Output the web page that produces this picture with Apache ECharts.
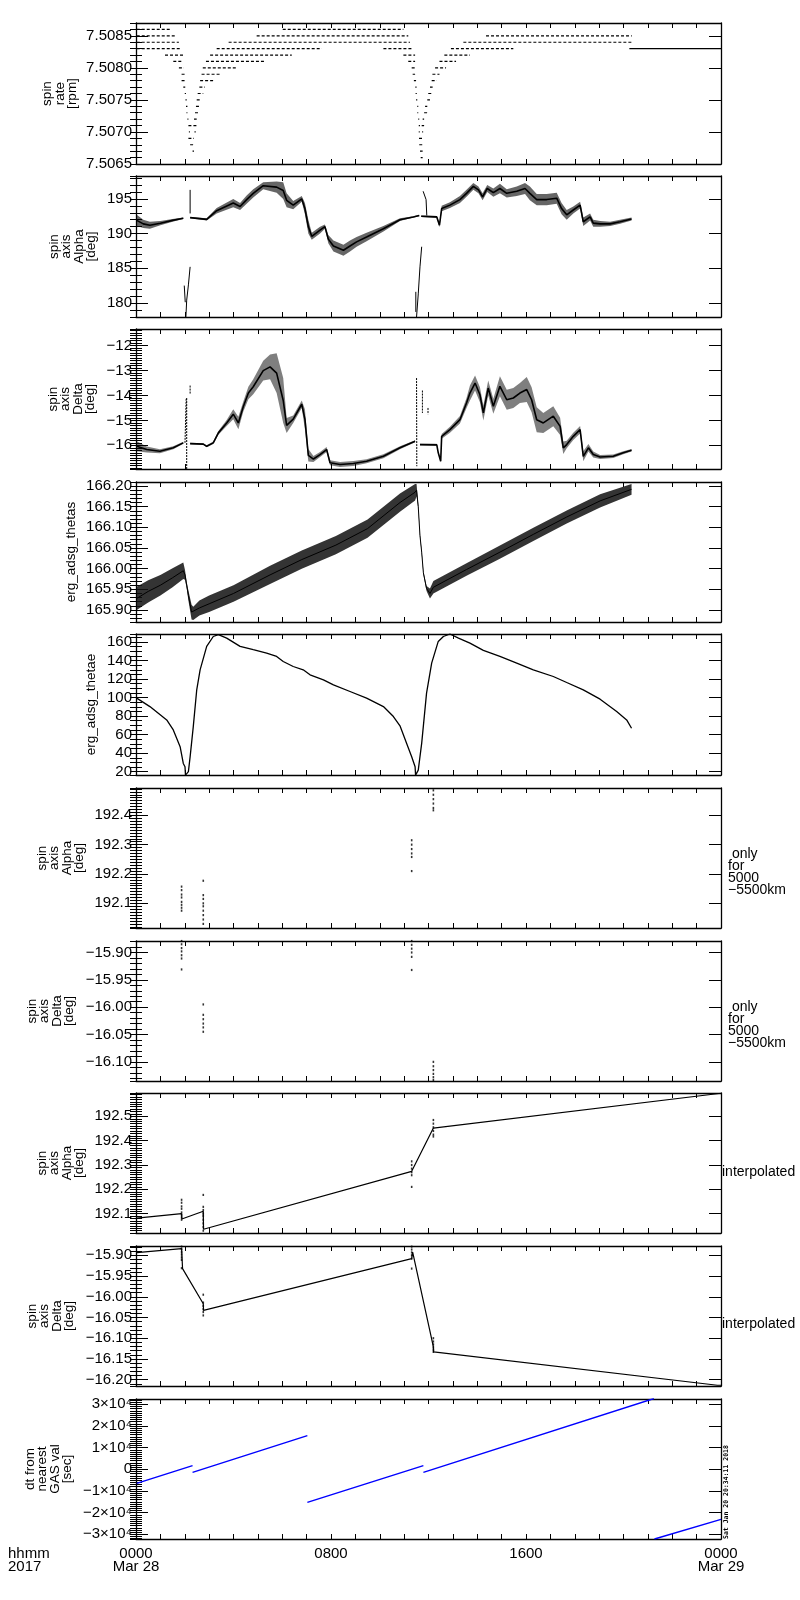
<!DOCTYPE html>
<html>
<head>
<meta charset="utf-8">
<script src="https://cdn.jsdelivr.net/npm/echarts@6/dist/echarts.min.js"></script>
<style>
  html, body { margin: 0; padding: 0; background: #fff; }
  #chart { width: 800px; height: 1600px; }
</style>
</head>
<body>
<div id="chart"></div>
<script>
// time is hours after 0000 UT, Mar 28 2017
var hourLabels = ['0000\nMar 28', '0800', '1600', '0000\nMar 29'];

// spin rate: quantized levels, [rpm, tStart, tEnd]
var spinRuns = [
  [7.5086, 0.03, 1.39], [7.5086, 6.02, 10.97],
  [7.5085, 0.03, 1.67], [7.5085, 4.95, 11.17], [7.5085, 14.36, 20.34],
  [7.5084, 0.03, 1.76], [7.5084, 3.80, 11.24], [7.5084, 13.43, 20.34],
  [7.5083, 0.03, 1.81], [7.5083, 3.31, 7.62], [7.5083, 10.15, 11.31], [7.5083, 12.92, 15.48],
  [7.5082, 1.19, 1.94], [7.5082, 3.04, 6.39], [7.5082, 10.97, 11.45], [7.5082, 12.65, 13.70],
  [7.5081, 1.53, 1.94], [7.5081, 2.87, 5.33], [7.5081, 11.17, 11.45], [7.5081, 12.45, 13.13],
  [7.5080, 1.76, 1.97], [7.5080, 2.74, 4.10], [7.5080, 11.31, 11.45], [7.5080, 12.27, 12.72],
  [7.5079, 1.87, 2.01], [7.5079, 2.69, 3.45], [7.5079, 11.35, 11.45], [7.5079, 12.16, 12.45],
  [7.5078, 1.87, 2.02], [7.5078, 2.63, 3.17], [7.5078, 11.40, 11.49], [7.5078, 12.13, 12.34],
  [7.5077, 1.94, 2.02], [7.5077, 2.60, 2.83], [7.5077, 11.46, 11.51], [7.5077, 12.06, 12.17],
  [7.5076, 2.00, 2.05], [7.5076, 2.53, 2.76], [7.5076, 11.47, 11.52], [7.5076, 11.99, 12.13],
  [7.5075, 2.03, 2.08], [7.5075, 2.49, 2.63], [7.5075, 11.49, 11.54], [7.5075, 11.95, 12.06],
  [7.5074, 2.05, 2.11], [7.5074, 2.46, 2.60], [7.5074, 11.54, 11.58], [7.5074, 11.86, 11.95],
  [7.5073, 2.07, 2.11], [7.5073, 2.42, 2.56], [7.5073, 11.54, 11.58], [7.5073, 11.82, 11.95],
  [7.5072, 2.11, 2.15], [7.5072, 2.38, 2.49], [7.5072, 11.58, 11.62], [7.5072, 11.76, 11.82],
  [7.5071, 2.15, 2.49], [7.5071, 11.60, 11.65], [7.5071, 11.72, 11.82],
  [7.5070, 2.17, 2.21], [7.5070, 2.40, 2.45], [7.5070, 11.60, 11.64], [7.5070, 11.74, 11.78],
  [7.5069, 2.15, 2.38], [7.5069, 11.61, 11.77],
  [7.5068, 2.22, 2.38], [7.5068, 11.62, 11.76],
  [7.5067, 2.32, 2.38], [7.5067, 11.65, 11.76],
  [7.5066, 11.68, 11.76]
];
// fill value after the data end
var spinFill = [[7.5083, 20.24, 24]];

// spin axis alpha: [t, centre, half spread]
var alphaSeg1 = [[0.03, 191.9, 0.8], [0.3, 191.4, 0.6], [0.57, 191.2, 0.5], [1.0, 191.5, 0.3], [1.5, 191.9, 0.2], [1.94, 192.2, 0.1]];
var alphaSeg2 = [[2.22, 192.3, 0.1], [2.9, 192.05, 0.15], [3.31, 193.3, 0.4], [3.99, 194.4, 0.6], [4.27, 193.9, 0.5],
  [4.54, 194.9, 0.6], [4.81, 195.8, 0.6], [5.22, 196.9, 0.5], [5.77, 196.7, 0.8], [6.04, 196.2, 1.2], [6.18, 194.8, 1.0],
  [6.45, 194.1, 0.6], [6.80, 195.0, 0.4], [6.93, 193.6, 0.8], [7.07, 191.0, 1.0], [7.21, 189.6, 0.5], [7.55, 190.5, 0.5],
  [7.75, 191.0, 0.3], [7.89, 189.2, 0.6], [8.10, 188.2, 0.8], [8.51, 187.6, 0.8], [8.78, 188.2, 0.8], [9.05, 188.8, 0.7],
  [9.46, 189.5, 0.6], [10.15, 190.7, 0.4], [10.83, 192.0, 0.2], [11.38, 192.4, 0.1], [11.62, 192.6, 0.1]];
var alphaSeg3 = [[11.7, 192.5, 0.1], [12.34, 192.4, 0.15], [12.45, 191.2, 0.3], [12.54, 193.6, 0.4], [12.88, 194.1, 0.4],
  [13.29, 194.9, 0.5], [13.56, 195.8, 0.5], [13.84, 196.8, 0.5], [14.05, 196.3, 0.5], [14.22, 195.3, 0.5], [14.41, 196.5, 0.5],
  [14.66, 195.9, 0.6], [14.93, 196.5, 0.7], [15.21, 195.8, 0.6], [15.62, 196.1, 0.7], [15.96, 196.5, 0.8], [16.16, 195.8, 1.0],
  [16.44, 194.9, 0.8], [16.85, 194.9, 0.8], [17.26, 195.1, 0.8], [17.46, 193.6, 0.8], [17.67, 192.7, 0.7], [17.94, 193.4, 0.5],
  [18.22, 194.1, 0.5], [18.35, 191.7, 0.6], [18.63, 192.4, 0.5], [18.76, 191.5, 0.5], [19.04, 191.4, 0.4], [19.45, 191.4, 0.3],
  [19.86, 191.7, 0.3], [20.33, 192.1, 0.2]];
var alphaSpikes = [
  [[2.22, 192.9], [2.22, 196.3]],
  [[11.78, 196.1], [11.90, 194.9], [11.93, 192.6]],
  [[1.98, 182.5], [2.02, 180.1]],
  [[2.04, 177.5], [2.08, 180.4], [2.15, 182.6], [2.22, 185.2]],
  [[11.48, 181.6], [11.48, 178.7]],
  [[11.50, 177.5], [11.58, 181.3], [11.65, 185.2], [11.72, 188.1]]
];

// spin axis delta: [t, centre, half spread]
var deltaSeg1 = [[0.03, -16.04, 0.2], [0.44, -16.17, 0.12], [0.98, -16.24, 0.08], [1.53, -16.1, 0.06], [1.94, -15.9, 0.04]];
var deltaSeg2 = [[2.22, -15.93, 0.03], [2.76, -15.95, 0.03], [2.90, -16.04, 0.04], [3.17, -15.9, 0.05], [3.38, -15.5, 0.08],
  [3.72, -15.1, 0.12], [3.99, -14.75, 0.2], [4.20, -15.1, 0.25], [4.40, -14.45, 0.2], [4.61, -13.9, 0.25], [4.81, -13.65, 0.3],
  [5.22, -13.0, 0.4], [5.50, -12.85, 0.5], [5.77, -13.1, 0.8], [6.04, -14.2, 0.9], [6.18, -15.2, 0.3], [6.45, -14.95, 0.15],
  [6.80, -14.35, 0.15], [6.93, -14.95, 0.4], [7.07, -16.4, 0.25], [7.28, -16.55, 0.12], [7.55, -16.37, 0.1], [7.82, -16.17, 0.1],
  [7.96, -16.7, 0.1], [8.37, -16.77, 0.1], [8.92, -16.73, 0.1], [9.46, -16.64, 0.08], [10.15, -16.44, 0.08], [10.83, -16.1, 0.06],
  [11.45, -15.84, 0.04]];
var deltaSeg3 = [[11.65, -15.97, 0.03], [12.34, -15.98, 0.04], [12.40, -16.3, 0.05], [12.50, -16.64, 0.05], [12.54, -15.64, 0.1],
  [12.88, -15.37, 0.12], [13.29, -14.97, 0.15], [13.56, -14.3, 0.2], [13.70, -13.9, 0.3], [13.91, -13.5, 0.3], [14.11, -13.97, 0.3],
  [14.25, -14.7, 0.3], [14.45, -13.7, 0.3], [14.66, -14.43, 0.3], [14.93, -13.63, 0.4], [15.21, -14.17, 0.4], [15.48, -14.1, 0.4],
  [15.75, -13.9, 0.4], [16.03, -13.76, 0.5], [16.23, -14.17, 0.5], [16.44, -14.97, 0.5], [16.71, -15.1, 0.4], [17.12, -14.83, 0.4],
  [17.40, -15.24, 0.35], [17.53, -16.1, 0.25], [17.67, -15.97, 0.15], [17.94, -15.64, 0.15], [18.22, -15.37, 0.15],
  [18.35, -16.44, 0.2], [18.56, -16.1, 0.15], [18.76, -16.37, 0.12], [19.04, -16.47, 0.08], [19.58, -16.44, 0.07],
  [19.99, -16.3, 0.06], [20.33, -16.2, 0.05]];
var deltaSpikes = [
  [[2.01, -15.9], [2.06, -14.1]],
  [[2.08, -14.1], [2.08, -16.95]],
  [[2.22, -13.6], [2.22, -13.95]],
  [[11.51, -13.3], [11.52, -16.84]],
  [[11.75, -13.8], [11.75, -14.7]],
  [[11.98, -14.5], [11.98, -14.75]]
];

// erg_adsg_thetas: [t, centre, half spread]
var thetasBand = [[0.03, 165.928, 0.028], [0.5, 165.945, 0.027], [1.0, 165.96, 0.025], [1.5, 165.978, 0.023],
  [1.94, 165.995, 0.02], [2.01, 165.985, 0.012], [2.08, 165.96, 0.008], [2.15, 165.935, 0.012], [2.28, 165.895, 0.018],
  [2.35, 165.892, 0.016], [2.6, 165.905, 0.018], [3.0, 165.915, 0.02], [4.0, 165.94, 0.02], [5.5, 165.985, 0.022],
  [6.8, 166.022, 0.022], [8.2, 166.057, 0.022], [9.5, 166.097, 0.022], [10.83, 166.16, 0.022], [11.45, 166.185, 0.02],
  [11.51, 166.19, 0.015], [11.58, 166.15, 0.005], [11.65, 166.08, 0.004], [11.72, 166.04, 0.004], [11.79, 165.99, 0.004],
  [11.92, 165.952, 0.006], [12.06, 165.94, 0.012], [12.2, 165.955, 0.015], [13.56, 165.998, 0.015], [14.93, 166.04, 0.016],
  [16.3, 166.083, 0.016], [17.67, 166.125, 0.016], [19.04, 166.164, 0.016], [20.33, 166.192, 0.013]];

// erg_adsg_thetae: [t, deg]
var thetaeLine = [[0.03, 99.4], [0.57, 90.3], [1.26, 75.9], [1.53, 65.1], [1.81, 47.0], [1.94, 28.9], [2.01, 25.3],
  [2.03, 16.3], [2.15, 20], [2.22, 36], [2.35, 68.7], [2.49, 108], [2.63, 130], [2.90, 155.3], [3.17, 166], [3.38, 168],
  [3.72, 164.3], [4.27, 155.3], [4.81, 151.7], [5.36, 148.1], [5.77, 144.5], [6.04, 139], [6.45, 133.6], [6.86, 130],
  [7.14, 124.6], [7.69, 119.2], [8.10, 113.8], [8.78, 106.6], [9.46, 99.4], [10.15, 90.3], [10.56, 79.5], [10.83, 69.5],
  [11.10, 50.6], [11.31, 36.2], [11.45, 25.3], [11.47, 16.3], [11.58, 21.7], [11.72, 50.6], [11.92, 104.8], [12.13, 137.3],
  [12.40, 160.7], [12.61, 166], [12.88, 168.7], [13.23, 164.3], [13.70, 158.9], [14.25, 151], [14.93, 144.5], [15.62, 137.3],
  [16.30, 130], [17.12, 122.8], [17.67, 116.3], [18.35, 108.4], [19.04, 98.3], [19.72, 84.9], [20.13, 75.9], [20.33, 66.9]];

// spin axis only for 5000-5500 km: [t, value]
var alphaOnly = [[1.87, 192.157], [1.87, 192.145], [1.87, 192.13], [1.87, 192.12], [1.87, 192.105], [1.87, 192.095],
  [1.87, 192.085], [1.87, 192.075], [2.76, 192.177], [2.76, 192.128], [2.76, 192.115], [2.76, 192.10], [2.76, 192.09],
  [2.76, 192.075], [2.76, 192.06], [2.76, 192.045], [2.76, 192.03], [11.31, 192.315], [11.31, 192.30], [11.31, 192.285],
  [11.31, 192.27], [11.31, 192.258], [11.31, 192.21], [12.2, 192.485], [12.2, 192.47], [12.2, 192.455], [12.2, 192.44],
  [12.2, 192.425], [12.2, 192.417]];
var deltaOnly = [[1.87, -15.879], [1.87, -15.885], [1.87, -15.892], [1.87, -15.898], [1.87, -15.905], [1.87, -15.911],
  [1.87, -15.931], [2.76, -15.995], [2.76, -16.014], [2.76, -16.022], [2.76, -16.03], [2.76, -16.037], [2.76, -16.045],
  [11.31, -15.879], [11.31, -15.886], [11.31, -15.893], [11.31, -15.90], [11.31, -15.908], [11.31, -15.932],
  [12.2, -16.10], [12.2, -16.108], [12.2, -16.115], [12.2, -16.122], [12.2, -16.128], [12.2, -16.133]];

// interpolated spin axis
var alphaInterp = [[0.03, 192.082], [1.87, 192.10], [1.88, 192.078], [2.76, 192.11], [2.77, 192.036], [11.31, 192.274],
  [12.2, 192.452], [24, 192.595]];
var deltaInterp = [[0.03, -15.8936], [1.87, -15.884], [1.91, -15.932], [2.76, -16.017], [2.77, -16.033], [11.31, -15.908],
  [11.35, -15.892], [12.2, -16.121], [12.21, -16.133], [23.85, -16.2135], [24, -16.2135]];

// dt from nearest GAS value [sec]
var dtSegs = [
  [[0.03, -6460], [2.32, 1690]],
  [[2.32, -1380], [7.03, 15540]],
  [[7.03, -15230], [11.79, 1690]],
  [[11.79, -1380], [21.25, 32700]],
  [[21.27, -32150], [24, -23080]]
];

var FONT = 'Liberation Sans';
var panels = [
  { top: 23, bottom: 164, min: 7.5065, max: 7.5087, major: 0.0005, minor: 0.0001, dec: 4, title: 'spin\nrate\n[rpm]', tx: 79 },
  { top: 176, bottom: 317, min: 177.97, max: 198.3, major: 5, minor: 1, dec: 0, title: 'spin\naxis\nAlpha\n[deg]', tx: 98 },
  { top: 329, bottom: 469, min: -16.95, max: -11.33, major: 1, minor: 0.1, dec: 0, title: 'spin\naxis\nDelta\n[deg]', tx: 97 },
  { top: 482, bottom: 622, min: 165.871, max: 166.2097, major: 0.05, minor: 0.01, dec: 2, title: 'erg_adsg_thetas', tx: 78 },
  { top: 634, bottom: 775, min: 16.4, max: 168.7, major: 20, minor: 5, dec: 0, title: 'erg_adsg_thetae', tx: 98 },
  { top: 788, bottom: 928, min: 192.016, max: 192.493, major: 0.1, minor: 0.01, dec: 1, title: 'spin\naxis\nAlpha\n[deg]', tx: 86,
    note: ' only\nfor\n5000\n\u22125500km', noteY: 872 },
  { top: 941, bottom: 1081, min: -16.135, max: -15.879, major: 0.05, minor: 0.01, dec: 2, title: 'spin\naxis\nDelta\n[deg]', tx: 76,
    note: ' only\nfor\n5000\n\u22125500km', noteY: 1025 },
  { top: 1093, bottom: 1233, min: 192.0205, max: 192.596, major: 0.1, minor: 0.01, dec: 1, title: 'spin\naxis\nAlpha\n[deg]', tx: 86,
    note: 'interpolated', noteY: 1172, noteX: 722 },
  { top: 1246, bottom: 1386, min: -16.2153, max: -15.8775, major: 0.05, minor: 0.01, dec: 2, title: 'spin\naxis\nDelta\n[deg]', tx: 76,
    note: 'interpolated', noteY: 1324, noteX: 722 },
  { top: 1399, bottom: 1539, min: -32150, max: 32460, major: 10000, minor: 1000, dec: -1, title: 'dt from\nnearest\nGAS val\n[sec]', tx: 74 }
];

function labelFormatter(p) {
  return function (v) {
    var k = v / p.major;
    if (Math.abs(k - Math.round(k)) > 1e-6) return '';
    if (p.dec < 0) {
      var m = Math.round(k);
      if (m === 0) return '0';
      return (m < 0 ? '\u2212' : '') + Math.abs(m) + '\u00d710\u2074';
    }
    return v.toFixed(p.dec).replace('-', '\u2212');
  };
}

var grids = [], xAxes = [], yAxes = [], series = [], graphics = [];
var axisColor = '#000';

panels.forEach(function (p, i) {
  var last = i === panels.length - 1;
  grids.push({ left: 136, right: 79, top: p.top, height: p.bottom - p.top, containLabel: false, outerBoundsMode: 'none' });
  ['bottom', 'top'].forEach(function (pos) {
    xAxes.push({
      gridIndex: i, type: 'value', position: pos, min: 0, max: 24, interval: 1,
      axisLine: { show: true, onZero: false, lineStyle: { color: axisColor, width: 1.3 } },
      axisTick: { show: true, inside: true, length: 5, lineStyle: { color: axisColor, width: 1 } },
      splitLine: { show: false },
      axisLabel: {
        show: last && pos === 'bottom', color: '#000', fontFamily: FONT, fontSize: 15, lineHeight: 13, margin: 8,
        formatter: function (v) { return v % 8 === 0 ? hourLabels[v / 8] : ''; }
      }
    });
  });
  var span = p.max - p.min;
  ['left', 'right'].forEach(function (pos) {
    yAxes.push({
      gridIndex: i, type: 'value', position: pos, min: p.min, max: p.max,
      splitNumber: Math.round(span / p.major),
      axisLine: { show: true, onZero: false, lineStyle: { color: axisColor, width: 1.3 } },
      axisTick: { show: true, inside: true, length: 12, lineStyle: { color: axisColor, width: 1 } },
      splitLine: { show: false },
      axisLabel: {
        show: pos === 'left', color: '#000', fontFamily: FONT, fontSize: 15, margin: 4,
        formatter: labelFormatter(p)
      }
    });
    yAxes.push({
      gridIndex: i, type: 'value', position: pos, min: p.min, max: p.max,
      splitNumber: Math.round(span / p.minor),
      axisLine: { show: false },
      axisTick: { show: true, inside: true, length: 6, lineStyle: { color: axisColor, width: 1 } },
      splitLine: { show: false },
      axisLabel: { show: false }
    });
  });

  graphics.push({
    type: 'text', x: p.tx, y: (p.top + p.bottom) / 2, rotation: Math.PI / 2, silent: true,
    style: {
      text: p.title, fill: '#000', fontFamily: FONT, fontSize: 13.5, lineHeight: 12.5,
      align: 'center', verticalAlign: 'bottom', textAlign: 'center', textVerticalAlign: 'bottom'
    }
  });
  if (p.note) {
    graphics.push({
      type: 'text', x: p.noteX || 728, y: p.noteY, silent: true,
      style: {
        text: p.note, fill: '#000', fontFamily: FONT, fontSize: 14, lineHeight: 12,
        align: 'left', verticalAlign: 'middle', textAlign: 'left', textVerticalAlign: 'middle'
      }
    });
  }
});

function withGaps(polys) {
  var out = [];
  polys.forEach(function (pl, j) {
    if (j) out.push([null, null]);
    pl.forEach(function (pt) { out.push(pt); });
  });
  return out;
}

function line(gi, data, color, width, type) {
  return {
    type: 'line', xAxisIndex: 2 * gi, yAxisIndex: 4 * gi, data: data,
    symbol: 'none', showSymbol: false, connectNulls: false, clip: true, silent: true, animation: false,
    lineStyle: { color: color, width: width, type: type || 'solid' }, z: 3
  };
}

function band(gi, seg, fill, opacity) {
  return {
    type: 'custom', coordinateSystem: 'cartesian2d', xAxisIndex: 2 * gi, yAxisIndex: 4 * gi,
    data: seg, encode: { x: 0, y: 1 }, clip: true, silent: true, animation: false, z: 2,
    renderItem: function (params, api) {
      if (params.dataIndex !== 0) return null;
      var up = [], lo = [];
      seg.forEach(function (d) {
        up.push(api.coord([d[0], d[1] + d[2]]));
        lo.push(api.coord([d[0], d[1] - d[2]]));
      });
      return { type: 'polygon', shape: { points: up.concat(lo.reverse()) }, style: { fill: fill, opacity: opacity } };
    }
  };
}

function dots(gi, data) {
  return {
    type: 'scatter', xAxisIndex: 2 * gi, yAxisIndex: 4 * gi, data: data,
    symbol: 'rect', symbolSize: [1.6, 2.2], itemStyle: { color: '#000' }, silent: true, animation: false, z: 4
  };
}

function centre(seg) { return seg.map(function (d) { return [d[0], d[1]]; }); }

// panel 1: spin rate
series.push(line(0, withGaps(spinRuns.map(function (r) { return [[r[1], r[0]], [r[2], r[0]]]; })), '#000', 1.2, [3, 2]));
series.push(line(0, withGaps(spinFill.map(function (r) { return [[r[1], r[0]], [r[2], r[0]]]; })), '#000', 1.2));

// panel 2: alpha
[alphaSeg1, alphaSeg2, alphaSeg3].forEach(function (s) {
  series.push(band(1, s, '#000', 0.6));
  series.push(line(1, centre(s), '#000', 1.6));
});
series.push(line(1, withGaps(alphaSpikes), '#000', 1));

// panel 3: delta
[deltaSeg1, deltaSeg2, deltaSeg3].forEach(function (s) {
  series.push(band(2, s, '#000', 0.5));
  series.push(line(2, centre(s), '#000', 1.6));
});
series.push(line(2, withGaps(deltaSpikes), '#000', 1, [2, 1]));

// panel 4: thetas
series.push(band(3, thetasBand, '#111', 0.85));
series.push(line(3, centre(thetasBand), '#000', 1));

// panel 5: thetae
series.push(line(4, thetaeLine, '#000', 1.3));

// panels 6-7: only for 5000-5500 km
series.push(dots(5, alphaOnly));
series.push(dots(6, deltaOnly));

// panels 8-9: interpolated
series.push(line(7, alphaInterp, '#000', 1.2));
series.push(dots(7, alphaOnly));
series.push(line(8, deltaInterp, '#000', 1.2));
series.push(dots(8, deltaOnly));

// panel 10: dt
series.push(line(9, withGaps(dtSegs), '#0000ff', 1.4));

graphics.push({
  type: 'text', x: 8, y: 1547, silent: true,
  style: { text: 'hhmm\n2017', fill: '#000', fontFamily: FONT, fontSize: 15, lineHeight: 13,
    align: 'left', verticalAlign: 'top', textAlign: 'left', textVerticalAlign: 'top' }
});
graphics.push({
  type: 'text', x: 726, y: 1539, rotation: Math.PI / 2, silent: true,
  style: { text: 'Sat Jan 20 20:34:11 2018', fill: '#000', fontFamily: 'DejaVu Sans Mono', fontSize: 6.5, fontWeight: 'bold',
    align: 'left', verticalAlign: 'middle', textAlign: 'left', textVerticalAlign: 'middle' }
});

var chart = echarts.init(document.getElementById('chart'));
chart.setOption({
  animation: false,
  backgroundColor: '#fff',
  grid: grids,
  xAxis: xAxes,
  yAxis: yAxes,
  series: series,
  graphic: graphics
});
</script>
</body>
</html>
